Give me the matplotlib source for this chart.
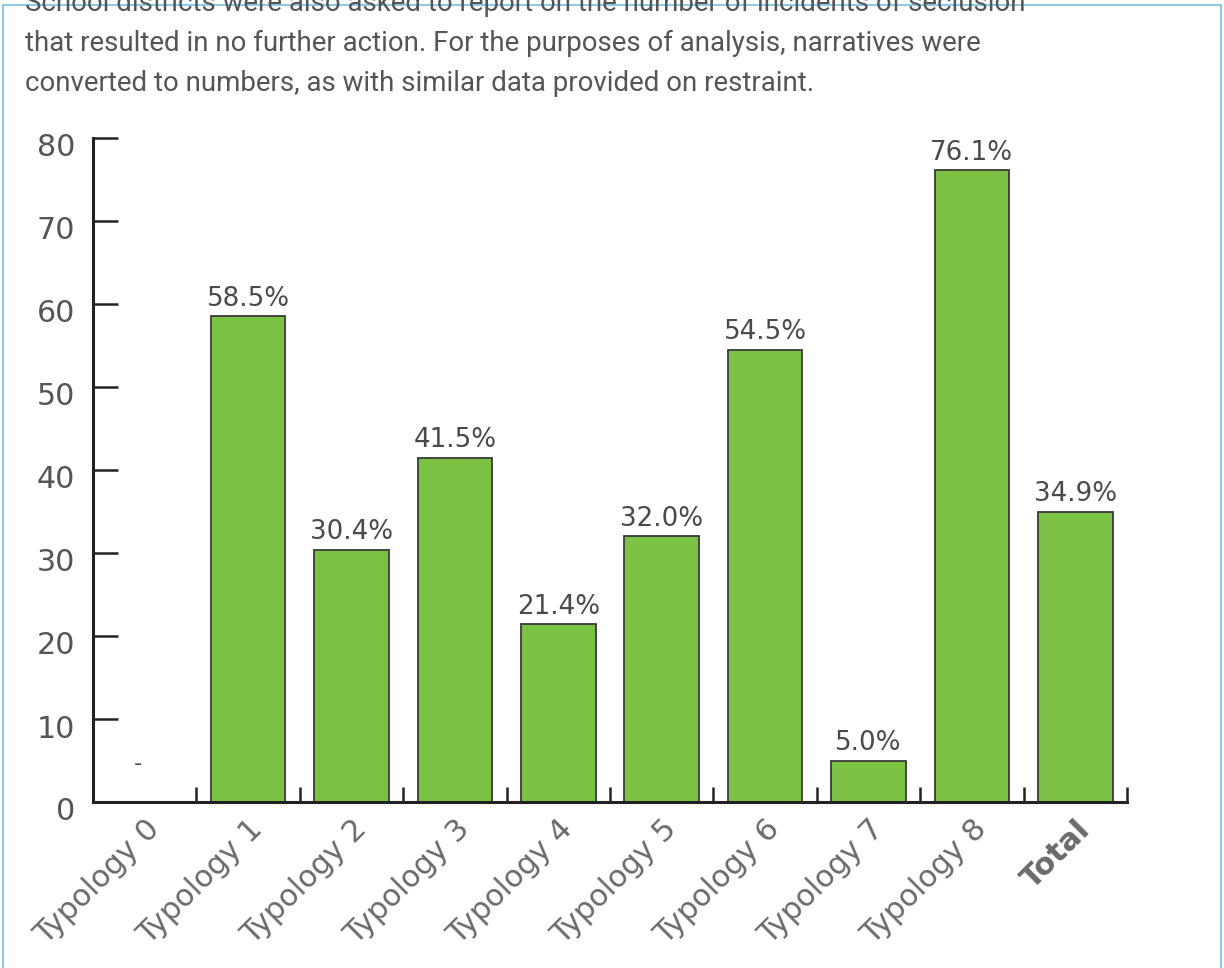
import matplotlib
matplotlib.use("Agg")
import matplotlib.pyplot as plt
import matplotlib.transforms as mtransforms
from matplotlib.patches import Rectangle
import numpy as np

categories = ["Typology 0", "Typology 1", "Typology 2", "Typology 3", "Typology 4",
              "Typology 5", "Typology 6", "Typology 7", "Typology 8", "Total"]
values = [None, 58.5, 30.4, 41.5, 21.4, 32.0, 54.5, 5.0, 76.1, 34.9]
yticks = [0, 10, 20, 30, 40, 50, 60, 70, 80]
header_lines = [
    "School districts were also asked to report on the number of incidents of seclusion",
    "that resulted in no further action. For the purposes of analysis, narratives were",
    "converted to numbers, as with similar data provided on restraint.",
]

W, H = 1224, 968
fig = plt.figure(figsize=(W / 100, H / 100), dpi=100)
fig.patch.set_facecolor("white")

# light blue frame
fig.patches.append(Rectangle((3 / W, -0.02), 1218 / W, 1 - 5 / H + 0.02,
                             transform=fig.transFigure, fill=False,
                             edgecolor="#8ccbe3", lw=1.5, zorder=0))

hdr_font = ["Roboto", "DejaVu Sans"]
for i, line in enumerate(header_lines):
    fig.text(25 / W, 1 - (11 + 40 * i) / H, line, fontsize=19.9, color="#555555",
             family=hdr_font, ha="left", va="baseline")

ax = fig.add_axes([93 / W, 1 - 802 / H, (1127 - 93) / W, (802 - 138) / H])
x = np.arange(len(categories))
vals = np.array([0 if v is None else v for v in values], dtype=float)
ax.bar(x, vals, width=0.72, color="#7bc143", edgecolor="#3a3a3a", linewidth=1.3, zorder=2)

ax.set_xlim(-0.5, len(categories) - 0.5)
ax.set_ylim(0, 80)

lab_font = ["DejaVu Sans"]
for xi, v in zip(x, values):
    if v is None:
        ax.text(xi - 0.07, 4.6, "-", ha="center", va="center", fontsize=16,
                color="#4a4a4a", family=lab_font)
    else:
        ax.annotate(f"{v:.1f}%", (xi, v), xytext=(0, 3.5), textcoords="offset points",
                    ha="center", va="bottom", fontsize=18.8, color="#4a4a4a",
                    family=lab_font)

for s in ["top", "right"]:
    ax.spines[s].set_visible(False)
ax.spines["left"].set_linewidth(2.2)
ax.spines["bottom"].set_linewidth(2.2)
ax.spines["left"].set_color("#222222")
ax.spines["bottom"].set_color("#222222")

ax.set_yticks(yticks)
ax.set_yticklabels([str(t) for t in yticks], fontsize=21.7, color="#555555", family=lab_font)
ax.tick_params(axis="y", direction="in", length=18, width=1.8, color="#222222", pad=13)
for lbl in ax.get_yticklabels():
    lbl.set_transform(lbl.get_transform() + mtransforms.ScaledTranslation(0, -7 / 100, fig.dpi_scale_trans))

# category boundary ticks
ax.set_xticks(np.arange(len(categories)) + 0.5, minor=True)
ax.tick_params(axis="x", which="minor", direction="in", length=11, width=1.8, color="#222222")
ax.set_xticks(x)
ax.tick_params(axis="x", which="major", length=0, pad=9)
ax.set_xticklabels(categories, rotation=45, ha="right", va="top", rotation_mode="anchor",
                   fontsize=22, color="#6a6a6a", family=lab_font)
for lbl in ax.get_xticklabels():
    lbl.set_transform(lbl.get_transform() + mtransforms.ScaledTranslation(0 / 100, 0, fig.dpi_scale_trans))
ax.get_xticklabels()[-1].set_fontweight("bold")

fig.savefig("out.png", dpi=100, facecolor="white")
